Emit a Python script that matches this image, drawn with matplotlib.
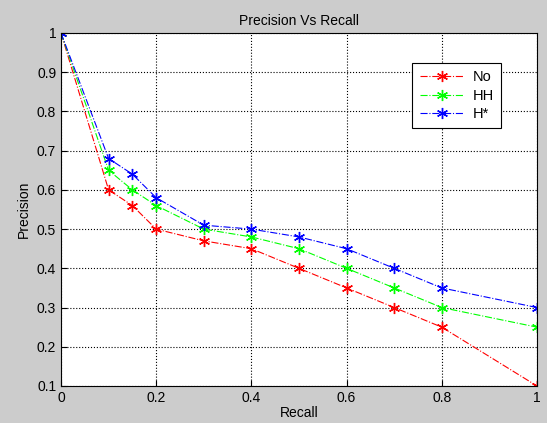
import numpy as np
import matplotlib.pyplot as plt

recall = [0, 0.1, 0.15, 0.2, 0.3, 0.4, 0.5, 0.6, 0.7, 0.8, 1.0]
prec_no = [1.0, 0.60, 0.56, 0.50, 0.47, 0.45, 0.40, 0.35, 0.30, 0.25, 0.10]
prec_hh = [1.0, 0.65, 0.60, 0.56, 0.50, 0.48, 0.45, 0.40, 0.35, 0.30, 0.25]
prec_hs = [1.0, 0.68, 0.64, 0.58, 0.51, 0.50, 0.48, 0.45, 0.40, 0.35, 0.30]
labels = ["No", "HH", "H*"]

plt.rcParams["font.family"] = ["Liberation Sans", "DejaVu Sans"]

fig = plt.figure(figsize=(5.47, 4.23), dpi=100, facecolor="#cccccc")
ax = fig.add_axes([0.1115, 0.0875, 0.8702, 0.8345])

star = (6, 2, 0)  # asterisk like matlab's '*'
ax.plot(recall, prec_no, "-.", marker=star, color="red", lw=0.8, ms=8, mew=1, label=labels[0])
ax.plot(recall, prec_hh, "-.", marker=star, color="#00ff00", lw=0.8, ms=8, mew=1, label=labels[1])
ax.plot(recall, prec_hs, "-.", marker=star, color="blue", lw=0.8, ms=8, mew=1, label=labels[2])

ax.set_xlim(0, 1)
ax.set_ylim(0.1, 1)
ax.set_xticks([0, 0.2, 0.4, 0.6, 0.8, 1])
ax.set_xticklabels(["0", "0.2", "0.4", "0.6", "0.8", "1"])
ax.set_yticks(np.arange(0.1, 1.01, 0.1))
ax.set_yticklabels(["0.1", "0.2", "0.3", "0.4", "0.5", "0.6", "0.7", "0.8", "0.9", "1"])
ax.tick_params(direction="in", labelsize=10, length=4)
ax.grid(True, color="black", linestyle=":", linewidth=0.8)

ax.set_title("Precision Vs Recall", fontsize=10)
ax.set_xlabel("Recall", fontsize=10, labelpad=1)
ax.set_ylabel("Precision", fontsize=10)

leg = ax.legend(loc="upper right", bbox_to_anchor=(0.924, 0.915), borderaxespad=0,
                fancybox=False, framealpha=1, edgecolor="black", fontsize=10.5,
                handlelength=3.0, handletextpad=0.6, labelspacing=0.3, borderpad=0.5)
leg.get_frame().set_linewidth(0.8)

fig.savefig("out.png", dpi=100, facecolor=fig.get_facecolor())
